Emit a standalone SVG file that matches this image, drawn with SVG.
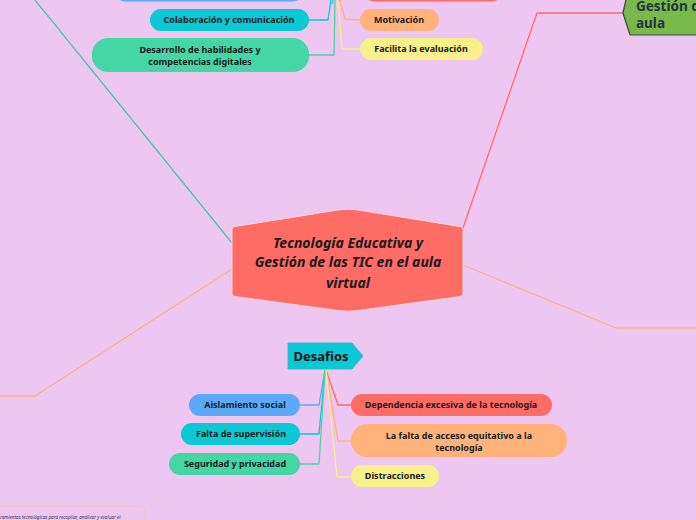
<svg xmlns="http://www.w3.org/2000/svg" width="696" height="520" viewBox="0 0 696 520">
<style>
.lbl{font-family:"Noto Sans","Open Sans",sans-serif;font-weight:bold;font-size:9px;fill:#1b1b1b;text-anchor:middle}
.ln{fill:none;stroke-width:1.3;stroke-linejoin:round}
</style>
<rect width="696" height="520" fill="#edc6f2"/>
<g id="connectors">
<polyline class="ln" stroke="#45c9a5" points="35,0 232,243"/>
<polyline class="ln" stroke="#ffb27a" points="232,269 35,396 0,396"/>
<polyline class="ln" stroke="#ffb27a" points="463,265 616,328 696,328"/>
<polyline class="ln" stroke="#ff6b65" points="463,228 537,13 623,13"/>
<polyline class="ln" stroke="#0ac9d4" points="331,0 328,20 309,20"/>
<polyline class="ln" stroke="#5aaaf8" points="333,0 332,4"/>
<polyline class="ln" stroke="#45d6a5" points="335,0 334,55 309,55"/>
<polyline class="ln" stroke="#ff6b65" points="339,0 340,1"/>
<polyline class="ln" stroke="#ffb27a" points="340,0 345,19 360,20"/>
<polyline class="ln" stroke="#f8f08a" points="338,0 342,49 360,49"/>
<polyline class="ln" stroke="#5aaaf8" points="325,370 319,405 300,405"/>
<polyline class="ln" stroke="#0ac9d4" points="325,370 319,434 300,434"/>
<polyline class="ln" stroke="#45d6a5" points="325,370 319,464 300,464"/>
<polyline class="ln" stroke="#ff6b65" points="326,370 338,405 351,405"/>
<polyline class="ln" stroke="#ffb27a" points="326,370 338,441 351,441"/>
<polyline class="ln" stroke="#f8f08a" points="326,370 337,477 351,477"/>
</g>
<g id="top-blue"><rect x="115" y="-20" width="188" height="21.5" rx="10" fill="#5aaaf8"/></g>
<g id="top-red"><rect x="364" y="-20" width="138" height="21.5" rx="10" fill="#ff6b65"/></g>
<g id="colaboracion"><rect x="150" y="9" width="159" height="22" rx="11" fill="#0ac9d4"/><text class="lbl" x="229" y="23.2">Colaboración y comunicación</text></g>
<g id="desarrollo"><rect x="92" y="38" width="217" height="34" rx="16" fill="#45d6a5"/><text class="lbl" x="200" y="53">Desarrollo de habilidades y</text><text class="lbl" x="200" y="65">competencias digitales</text></g>
<g id="motivacion"><rect x="360" y="9" width="79" height="22" rx="11" fill="#ffb27a"/><text class="lbl" x="399" y="23.2">Motivación</text></g>
<g id="facilita"><rect x="360" y="38" width="123" height="22" rx="11" fill="#f8f08a"/><text class="lbl" x="421" y="52.2">Facilita la evaluación</text></g>
<g id="gestion"><polygon points="627,-5 623,13 630,35 700,35 700,-5" fill="#7bb84a" stroke="#2b4a3f" stroke-width="1.2"/><text x="636" y="10.5" font-family="Noto Sans,sans-serif" font-weight="bold" font-size="13.5" fill="#1e3448">Gestión de</text><text x="636" y="27.5" font-family="Noto Sans,sans-serif" font-weight="bold" font-size="13.5" fill="#1e3448">aula</text></g>
<g id="central"><path d="M232,229 Q232,227 235,226.5 L338,210 Q348,208.5 358,210 L460,226.5 Q463,227 463,229 L463,294 Q463,296 460,296.5 L358,310.5 Q348,312 338,310.5 L235,296.5 Q232,296 232,294 Z" fill="#ff6b65" stroke="#ffd6d6" stroke-width="1"/>
<g font-family="Noto Sans,sans-serif" font-style="italic" font-weight="bold" font-size="14" fill="#1a1a1a" text-anchor="middle"><text x="348" y="248">Tecnología Educativa y</text><text x="348" y="267">Gestión de las TIC en el aula</text><text x="348" y="288">virtual</text></g></g>
<g id="desafios"><polygon points="288,343 352,343 363,356 352,369 288,369" fill="#0ac9d4" stroke="#2bb8c8" stroke-width="0.8"/><text x="321" y="361" font-family="Noto Sans,sans-serif" font-weight="bold" font-size="13" fill="#111" text-anchor="middle">Desafios</text></g>
<g id="aislamiento"><rect x="189" y="394" width="111" height="22" rx="11" fill="#5aaaf8"/><text class="lbl" x="245" y="408.2">Aislamiento social</text></g>
<g id="falta-supervision"><rect x="181" y="423" width="119" height="22" rx="11" fill="#0ac9d4"/><text class="lbl" x="241" y="437.2">Falta de supervisión</text></g>
<g id="seguridad"><rect x="169" y="453" width="131" height="22" rx="11" fill="#45d6a5"/><text class="lbl" x="235" y="467.2">Seguridad y privacidad</text></g>
<g id="dependencia"><rect x="351" y="394" width="201" height="22" rx="11" fill="#ff6b65"/><text class="lbl" x="451" y="408.2">Dependencia excesiva de la tecnología</text></g>
<g id="falta-acceso"><rect x="351" y="424" width="216" height="33" rx="16" fill="#ffb27a"/><text class="lbl" x="459" y="439">La falta de acceso equitativo a la</text><text class="lbl" x="459" y="450.5">tecnología</text></g>
<g id="distracciones"><rect x="351" y="465" width="88" height="22" rx="11" fill="#f8f08a"/><text class="lbl" x="395" y="479.2">Distracciones</text></g>
<g id="bottom-note"><path d="M0,506 L139,506 Q145,506 145,512 L145,521" fill="none" stroke="#ffc79a" stroke-width="0.8"/><text x="0" y="518.5" font-family="Noto Sans,sans-serif" font-style="italic" font-size="4.6" fill="#3c3c5a">ramientas tecnológicas para recopilar, analizar y evaluar el</text></g>
</svg>
